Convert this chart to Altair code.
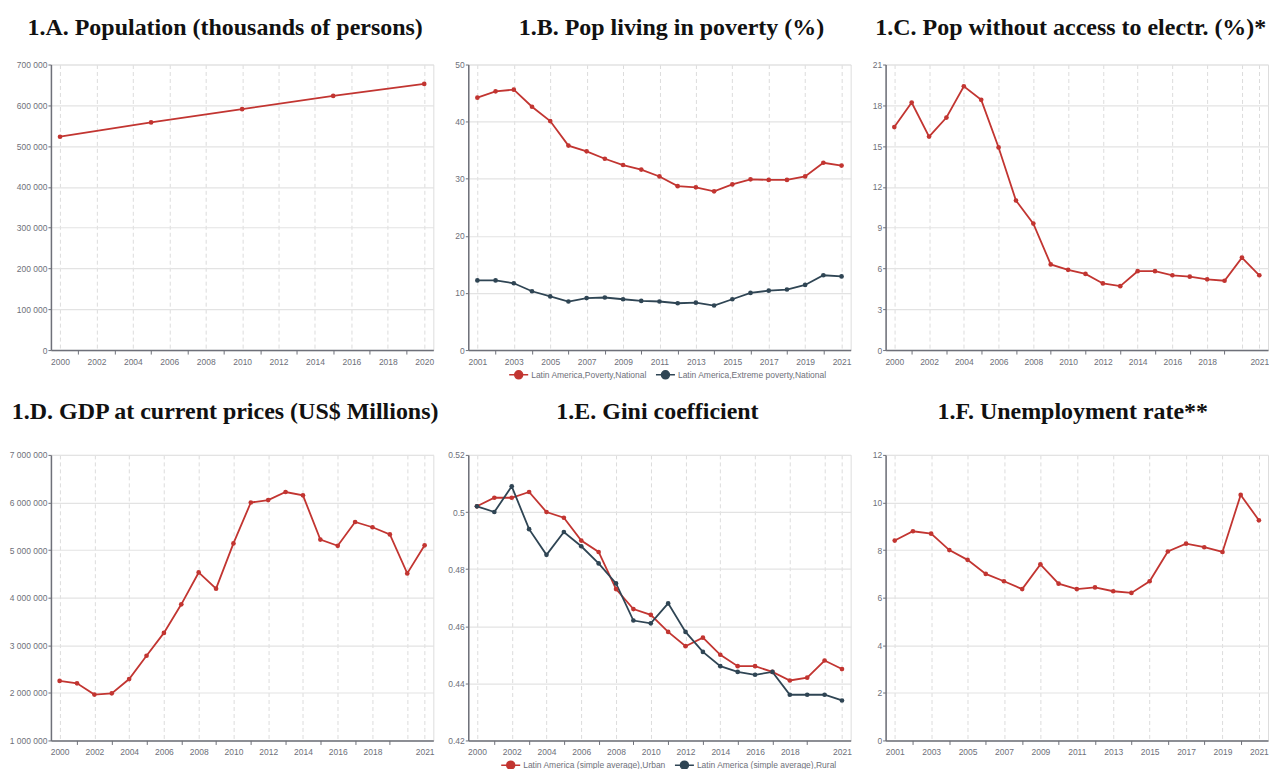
import altair as alt
import pandas as pd

RED = "#c23531"
NAVY = "#2f4554"

# ---------------- data ----------------
years_a = list(range(2000, 2021))
pop_years = [2000, 2005, 2010, 2015, 2020]
pop_values = [523000, 558000, 590500, 623000, 652500]

years_b = list(range(2001, 2022))
poverty_values = [44.2, 45.3, 45.6, 42.6, 40.1, 35.8, 34.8, 33.5, 32.4, 31.6, 30.4,
                  28.7, 28.5, 27.8, 29.0, 29.9, 29.8, 29.8, 30.4, 32.8, 32.3]
extreme_values = [12.2, 12.2, 11.7, 10.3, 9.4, 8.5, 9.1, 9.2, 8.9, 8.6, 8.5,
                  8.2, 8.3, 7.8, 8.9, 10.0, 10.4, 10.6, 11.4, 13.1, 12.9]
series_b = ["Latin America,Poverty,National", "Latin America,Extreme poverty,National"]

years_c = list(range(2000, 2022))
electr_values = [16.4, 18.2, 15.7, 17.1, 19.4, 18.4, 14.9, 11.0, 9.3, 6.3, 5.9,
                 5.6, 4.9, 4.7, 5.8, 5.8, 5.5, 5.4, 5.2, 5.1, 6.8, 5.5]

years_d = list(range(2000, 2022))
gdp_values = [2250000, 2200000, 1964000, 1990000, 2290000, 2780000, 3260000, 3860000,
              4530000, 4190000, 5140000, 6000000, 6050000, 6220000, 6150000, 5220000,
              5090000, 5590000, 5480000, 5330000, 4510000, 5100000]

years_e = list(range(2000, 2022))
gini_urban = [0.502, 0.505, 0.505, 0.507, 0.500, 0.498, 0.490, 0.486, 0.473, 0.466, 0.464,
              0.458, 0.453, 0.456, 0.450, 0.446, 0.446, 0.444, 0.441, 0.442, 0.448, 0.445]
gini_rural = [0.502, 0.500, 0.509, 0.494, 0.485, 0.493, 0.488, 0.482, 0.475, 0.462, 0.461,
              0.468, 0.458, 0.451, 0.446, 0.444, 0.443, 0.444, 0.436, 0.436, 0.436, 0.434]
series_e = ["Latin America (simple average),Urban", "Latin America (simple average),Rural"]

years_f = list(range(2001, 2022))
unemp_values = [8.40, 8.79, 8.69, 8.0, 7.59, 7.0, 6.69, 6.36, 7.40, 6.59, 6.36,
                6.43, 6.27, 6.20, 6.69, 7.94, 8.27, 8.12, 7.92, 10.32, 9.25]

titles = [
    "1.A. Population (thousands of persons)",
    "1.B. Pop living in poverty (%)",
    "1.C. Pop without access to electr. (%)*",
    "1.D. GDP at current prices (US$ Millions)",
    "1.E. Gini coefficient",
    "1.F. Unemployment rate**",
]
title_dx = [-17, 12, -6, -17, -2, -4]
title_offset = [21, 21, 21, 27, 27, 27]

W, H = 383, 286
LEGEND_PATH = ("M-1,0L-0.42,0M0.42,0L1,0"
               "M-0.42,0A0.42,0.42,0,1,1,0.42,0A0.42,0.42,0,1,1,-0.42,0Z")


def panel(idx, df, years, y_values, series, colors, legend_pos=None):
    first, last = years[0], years[-1]
    show_label = (f"((datum.value - {first}) % 2 == 0 && datum.value != {last - 1})"
                  f" || datum.value == {last}")
    grid_test = f"(datum.value - {first}) % 2 == 0 || datum.value == {last}"
    x = alt.X(
        "year:Q",
        scale=alt.Scale(domain=[first - 0.5, last + 0.5], nice=False, zero=False),
        axis=alt.Axis(
            values=years, title=None,
            labelExpr=f"{show_label} ? toString(datum.value) : ''",
            labelFontSize=8.5, labelColor="#6e7079", labelPadding=3,
            labelFlush=False, labelOverlap=False,
            grid=True, gridDash=[4, 3], gridColor="#dcdcdc",
            gridOpacity={"condition": {"test": grid_test, "value": 1}, "value": 0},
            ticks=True, tickSize=4, tickColor="#6e7079",
            tickOpacity={"condition": {"test": grid_test, "value": 0}, "value": 1},
            domainColor="#6e7079", domainWidth=1.5,
        ),
    )
    y = alt.Y(
        "value:Q",
        scale=alt.Scale(domain=[y_values[0], y_values[-1]], nice=False, zero=False),
        axis=alt.Axis(
            values=y_values, title=None,
            labelExpr="replace(format(datum.value, ',~f'), regexp(',', 'g'), ' ')",
            labelFontSize=8.5, labelColor="#6e7079", labelPadding=1,
            grid=True, gridColor="#e3e3e3", gridWidth=1.2,
            ticks=True, tickSize=3, tickColor="#6e7079",
            domainColor="#6e7079", domainWidth=1.5,
        ),
    )
    scale = alt.Scale(domain=series, range=colors)
    if legend_pos is not None:
        legend = alt.Legend(
            orient="none", legendX=legend_pos[0], legendY=legend_pos[1],
            direction="horizontal", title=None, labelFontSize=8.5, labelLimit=0,
            labelColor="#6e7079", symbolType=LEGEND_PATH, symbolSize=361,
            symbolStrokeWidth=1.5, columnPadding=5, labelOffset=2,
        )
    else:
        legend = None
    base = alt.Chart(df).encode(x=x, y=y)
    line = base.mark_line(strokeWidth=1.8).encode(
        color=alt.Color("series:N", scale=scale, legend=legend, sort=series))
    pts = base.mark_circle(size=22, opacity=1).encode(
        color=alt.Color("series:N", scale=scale, legend=None, sort=series))
    return alt.layer(line, pts).properties(
        width=W, height=H,
        title=alt.TitleParams(
            titles[idx], font="Liberation Serif", fontSize=24, fontWeight="bold",
            color="#111111", anchor="middle", offset=title_offset[idx],
            dx=title_dx[idx],
        ),
    )


def frame(years, vals_list, series):
    rows = []
    for s, vals in zip(series, vals_list):
        for yr, v in zip(years, vals):
            rows.append({"year": yr, "value": v, "series": s})
    return pd.DataFrame(rows)


df_a = frame(pop_years, [pop_values], ["Population"])
df_b = frame(years_b, [poverty_values, extreme_values], series_b)
df_c = frame(years_c, [electr_values], ["Electricity"])
df_d = frame(years_d, [gdp_values], ["GDP"])
df_e = frame(years_e, [gini_urban, gini_rural], series_e)
df_f = frame(years_f, [unemp_values], ["Unemployment"])

p_a = panel(0, df_a, years_a, list(range(0, 700001, 100000)), ["Population"], [RED])
p_b = panel(1, df_b, years_b, list(range(0, 51, 10)), series_b, [RED, NAVY],
            legend_pos=(40, 300))
p_c = panel(2, df_c, years_c, list(range(0, 22, 3)), ["Electricity"], [RED])
p_d = panel(3, df_d, years_d, list(range(1000000, 7000001, 1000000)), ["GDP"], [RED])
p_e = panel(4, df_e, years_e, [0.42, 0.44, 0.46, 0.48, 0.5, 0.52], series_e,
            [RED, NAVY], legend_pos=(32, 300))
p_f = panel(5, df_f, years_f, list(range(0, 13, 2)), ["Unemployment"], [RED])

chart = alt.concat(
    p_a, p_b, p_c, p_d, p_e, p_f,
    columns=3, spacing={"row": 105, "column": 35}, bounds="flush",
).resolve_scale(
    x="independent", y="independent", color="independent"
).properties(
    padding={"left": 0, "top": 6, "right": -1, "bottom": 0},
).configure_view(stroke=None).configure(font="Liberation Sans", background="white")

chart.save("out.html", embed_options={"renderer": "svg", "actions": False})
